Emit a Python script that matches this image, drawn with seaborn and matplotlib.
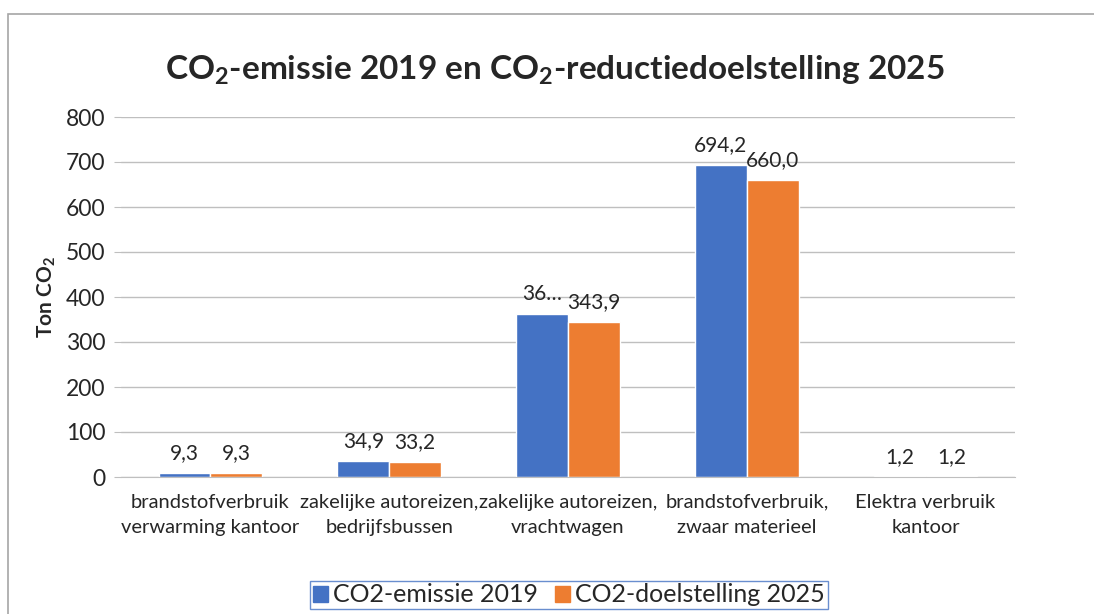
import matplotlib
matplotlib.use("Agg")
import matplotlib.pyplot as plt
import matplotlib.patches as mpatches
import pandas as pd
import seaborn as sns

categories = [
    "brandstofverbruik\nverwarming kantoor",
    "zakelijke autoreizen,\nbedrijfsbussen",
    "zakelijke autoreizen,\nvrachtwagen",
    "brandstofverbruik,\nzwaar materieel",
    "Elektra verbruik\nkantoor",
]
emissie_2019 = [9.3, 34.9, 362.0, 694.2, 1.2]
doel_2025 = [9.3, 33.2, 343.9, 660.0, 1.2]
labels_2019 = ["9,3", "34,9", "36…", "694,2", "1,2"]
labels_2025 = ["9,3", "33,2", "343,9", "660,0", "1,2"]
series = ["CO2-emissie 2019", "CO2-doelstelling 2025"]
colors = ["#4472C4", "#ED7D31"]

df = pd.DataFrame({
    "cat": categories * 2,
    "val": emissie_2019 + doel_2025,
    "serie": [series[0]] * 5 + [series[1]] * 5,
})

sns.set_style("white")
plt.rcParams["font.family"] = ["Lato", "DejaVu Sans"]

fig = plt.figure(figsize=(10.94, 6.14), dpi=100)
ax = fig.add_axes([121 / 1094, 1 - 477 / 614, (1015 - 121) / 1094, 360 / 614])

sns.barplot(data=df, x="cat", y="val", hue="serie", palette=colors,
            width=0.58, saturation=1, ax=ax, legend=False)

ax.set_ylim(0, 800)
ax.set_yticks(range(0, 801, 100))
ax.yaxis.grid(True, color="#BFBFBF", linewidth=1)
ax.set_axisbelow(True)
for s in ["top", "right", "left"]:
    ax.spines[s].set_visible(False)
ax.spines["bottom"].set_color("#BFBFBF")
ax.tick_params(axis="y", labelsize=16.5, length=5, color="#BFBFBF", left=True, pad=6)
ax.tick_params(axis="x", labelsize=14.5, length=0, pad=12)
for t in ax.get_xticklabels():
    t.set_linespacing(1.6)
ax.set_xlabel("")
ax.set_ylabel(r"Ton CO$\mathregular{_2}$", fontsize=15, fontweight="bold", labelpad=6)

for cont, labs in zip(ax.containers, [labels_2019, labels_2025]):
    ax.bar_label(cont, labels=labs, padding=7, fontsize=15)

fig.text(555 / 1094, 1 - 70 / 614,
         r"CO$\mathregular{_2}$-emissie 2019 en CO$\mathregular{_2}$-reductiedoelstelling 2025",
         ha="center", va="center", fontsize=24, fontweight="bold")

handles = [mpatches.Patch(color=c, label=s) for c, s in zip(colors, series)]
leg = fig.legend(handles=handles, loc="center", bbox_to_anchor=(569 / 1094, 1 - 595 / 614),
                 ncol=2, fontsize=18, frameon=True, fancybox=False,
                 handlelength=0.6, handleheight=0.6, handletextpad=0.2,
                 columnspacing=0.7, borderpad=0.1, borderaxespad=0)
leg.get_frame().set_edgecolor("#4472C4")
leg.get_frame().set_linewidth(1)

fig.patches.append(mpatches.Rectangle((8 / 1094, -0.1), 1.2, 1 - 14 / 614 + 0.1,
                                      transform=fig.transFigure, fill=False,
                                      edgecolor="#A6A6A6", linewidth=1.2))

fig.savefig("out.png", dpi=100)
